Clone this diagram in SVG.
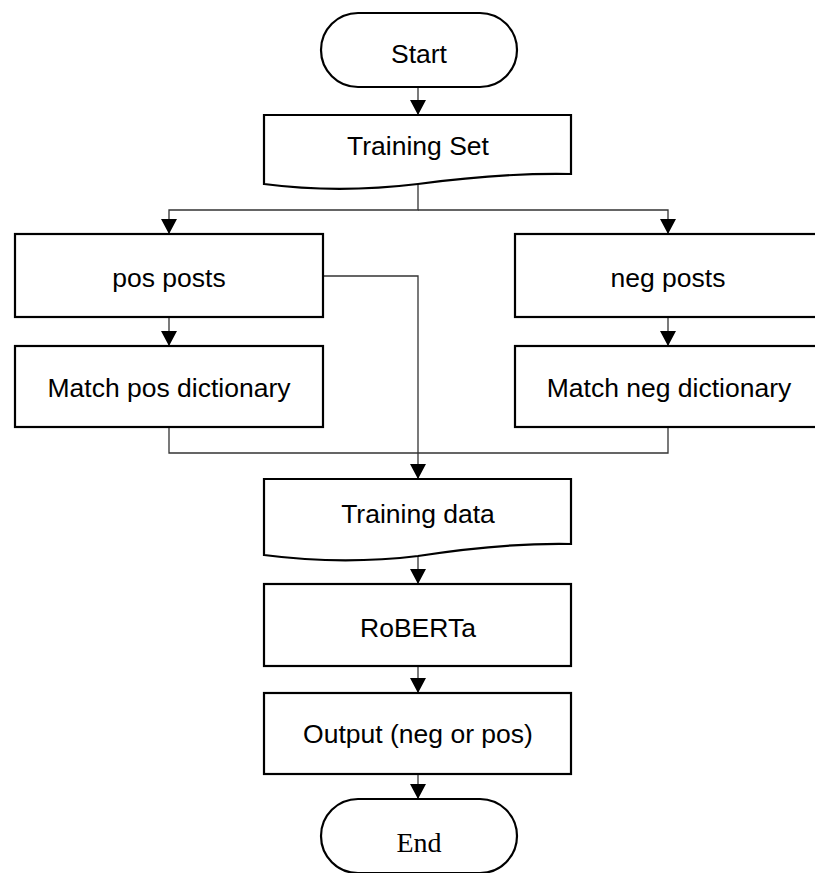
<svg xmlns="http://www.w3.org/2000/svg" width="815" height="873" viewBox="0 0 815 873">
<style>
.box{fill:#fff;stroke:#000;stroke-width:2.2}
.t{font-family:"Liberation Sans",Arial,sans-serif;font-size:26.5px;fill:#000;text-anchor:middle}
.s{font-family:"Liberation Serif","Times New Roman",serif;font-size:28px;fill:#000;text-anchor:middle}
.c{fill:none;stroke:#333;stroke-width:1.3}
</style>
<defs>
<marker id="arr" markerUnits="userSpaceOnUse" markerWidth="16" markerHeight="16" viewBox="0 0 15 16" refX="15" refY="8" orient="auto">
<path d="M0,0 L15,8 L0,16 z" fill="#000"/>
</marker>
</defs>
<rect width="815" height="873" fill="#fff"/>
<g id="connectors">
<path class="c" d="M418,87 V115" marker-end="url(#arr)"/>
<path class="c" d="M418,184 V210 H169 V234" marker-end="url(#arr)"/>
<path class="c" d="M418,210 H668 V234" marker-end="url(#arr)"/>
<path class="c" d="M169,317 V346" marker-end="url(#arr)"/>
<path class="c" d="M668,317 V346" marker-end="url(#arr)"/>
<path class="c" d="M323,276 H418 V479" marker-end="url(#arr)"/>
<path class="c" d="M169,427 V453 H418"/>
<path class="c" d="M668,427 V453 H418"/>
<path class="c" d="M418,556 V584" marker-end="url(#arr)"/>
<path class="c" d="M418,666 V693" marker-end="url(#arr)"/>
<path class="c" d="M418,774 V799" marker-end="url(#arr)"/>
</g>
<g id="start">
<rect class="box" x="321" y="13" width="196" height="74" rx="37"/>
<text class="t" x="419" y="63">Start</text>
</g>
<g id="training-set">
<path class="box" d="M264,115 H571 V174 C520,173 470,177 418,184 C360,191 310,190 264,184 Z"/>
<text class="t" x="418" y="155">Training Set</text>
</g>
<g id="pos-posts">
<rect class="box" x="15" y="234" width="308" height="83"/>
<text class="t" x="169" y="287">pos posts</text>
</g>
<g id="match-pos">
<rect class="box" x="15" y="346" width="308" height="81"/>
<text class="t" x="169" y="397">Match pos dictionary</text>
</g>
<g id="neg-posts">
<rect class="box" x="515" y="234" width="310" height="83"/>
<text class="t" x="668" y="287">neg posts</text>
</g>
<g id="match-neg">
<rect class="box" x="515" y="346" width="310" height="81"/>
<text class="t" x="669" y="397">Match neg dictionary</text>
</g>
<g id="training-data">
<path class="box" d="M264,479 H571 V544 C520,543 470,548 418,556 C360,563 310,561 264,555 Z"/>
<text class="t" x="418" y="523">Training data</text>
</g>
<g id="roberta">
<rect class="box" x="264" y="584" width="307" height="82"/>
<text class="t" x="418" y="637">RoBERTa</text>
</g>
<g id="output">
<rect class="box" x="264" y="693" width="307" height="81"/>
<text class="t" x="418" y="743">Output (neg or pos)</text>
</g>
<g id="end">
<rect class="box" x="321" y="799" width="196" height="74" rx="37"/>
<text class="s" x="419" y="852">End</text>
</g>
</svg>
